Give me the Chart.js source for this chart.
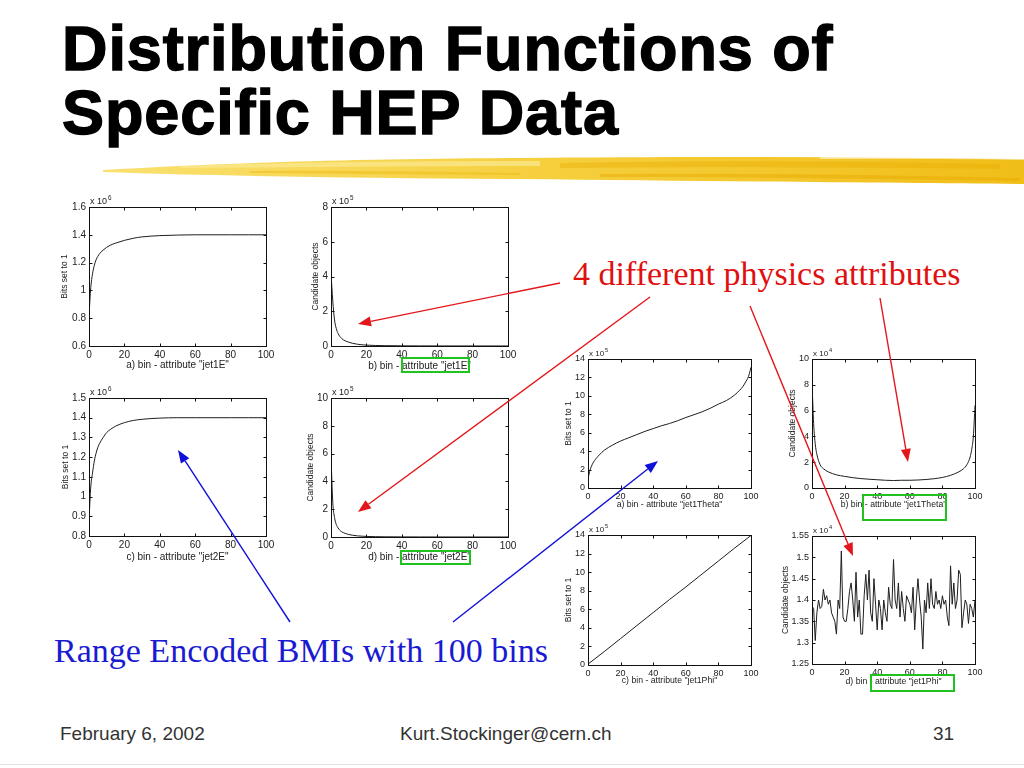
<!DOCTYPE html>
<html><head><meta charset="utf-8">
<script src="https://cdn.jsdelivr.net/npm/chart.js@4.4.1/dist/chart.umd.min.js"></script>
<style>
html,body{margin:0;padding:0;background:#fff;}
#slide{position:relative;width:1024px;height:768px;overflow:hidden;background:#fff;}
.ttl{position:absolute;left:62px;font-family:"Liberation Sans",Arial,sans-serif;font-weight:bold;font-size:63px;line-height:63px;color:#000;white-space:nowrap;-webkit-text-stroke:1.4px #000;letter-spacing:0.9px;}
.note{position:absolute;font-family:"Liberation Serif","Times New Roman",serif;font-size:34px;line-height:34px;white-space:nowrap;}
.foot{position:absolute;font-family:"Liberation Sans",Arial,sans-serif;font-size:19px;line-height:19px;color:#333;white-space:nowrap;}
canvas.pc{position:absolute;}
.gbox{position:absolute;border:2px solid #1fc21f;box-sizing:border-box;z-index:5;}
svg{position:absolute;left:0;top:0;}
</style>
</head><body>
<div id="slide">
  <svg id="brush" width="1024" height="768" style="z-index:1">
    <defs>
      <linearGradient id="yg" x1="0" x2="1" y1="0" y2="0">
        <stop offset="0" stop-color="#f9e070"/>
        <stop offset="0.45" stop-color="#f6d040"/>
        <stop offset="1" stop-color="#f1be18"/>
      </linearGradient>
    </defs>
    <path d="M103,170 C200,164 340,159 520,158 C700,156 860,157 1024,159 L1024,184 C900,183 700,181 520,179 C360,178 220,176 103,172 Z" fill="url(#yg)"/>
    <path d="M180,166 C300,162 420,161 540,161 L540,166 C420,166 300,167 180,168 Z" fill="#fbe993" opacity="0.7"/>
    <path d="M560,163 C700,160 850,161 1000,164 L1000,169 C850,167 700,167 560,168 Z" fill="#e8ad00" opacity="0.4"/>
    <path d="M600,174 C750,173 880,175 1020,178 L1020,181 C880,179 750,177 600,177 Z" fill="#e6a800" opacity="0.45"/>
    <path d="M250,171 C350,170 450,172 520,173 L520,175 C450,175 350,174 250,173 Z" fill="#eec020" opacity="0.6"/>
    <path d="M820,157 C900,156 960,157 1024,158 L1024,160 C960,159 900,159 820,159 Z" fill="#fff" opacity="0.5"/>
  </svg>
  <div class="ttl" style="top:17px">Distribution Functions of</div>
  <div class="ttl" style="top:81px">Specific HEP Data</div>
  <div class="note" style="left:573px;top:257px;color:#e01010">4 different physics attributes</div>
  <div class="note" style="left:54px;top:634px;color:#1a1ad2">Range Encoded BMIs with 100 bins</div>
  <div class="foot" style="left:60px;top:724px">February 6, 2002</div>
  <div class="foot" style="left:400px;top:724px">Kurt.Stockinger@cern.ch</div>
  <div class="foot" style="left:933px;top:724px">31</div>
  <div style="position:absolute;left:0;top:764px;width:1024px;height:1px;background:#e2e2e2"></div>
  <svg id="arrows" width="1024" height="768" style="z-index:6;pointer-events:none"></svg>
</div>
<script>
// ---------- data ----------
const binsE = [0,1,2,3,4,5,6,8,10,12,15,20,25,30,40,50,60,70,80,90,100];
const bitsJet1E = [0.82,1.02,1.12,1.18,1.22,1.245,1.265,1.29,1.31,1.325,1.34,1.36,1.375,1.385,1.394,1.398,1.4,1.4,1.4,1.4,1.4];
const candJet1E = [4.2,2.6,1.5,1.0,0.72,0.55,0.43,0.3,0.22,0.16,0.1,0.05,0.03,0.02,0.01,0.006,0.004,0.003,0.002,0.002,0.002];
const bitsJet2E = [0.88,1.05,1.12,1.18,1.22,1.25,1.27,1.30,1.325,1.34,1.357,1.375,1.386,1.392,1.398,1.4,1.4,1.4,1.4,1.4,1.4];
const candJet2E = [5.8,2.5,1.4,0.9,0.65,0.48,0.38,0.26,0.18,0.13,0.08,0.04,0.025,0.015,0.008,0.005,0.004,0.003,0.002,0.002,0.002];

const binsTheta = [0,1,2,3,5,7,10,15,20,25,30,35,40,45,50,55,60,65,70,75,80,85,90,93,95,97,98,99,100];
const bitsJet1Theta = [1.0,1.8,2.3,2.7,3.2,3.6,4.1,4.65,5.1,5.45,5.8,6.15,6.45,6.75,7.0,7.3,7.65,7.95,8.27,8.65,9.1,9.5,10.1,10.6,11.0,11.6,11.9,12.4,13.1];
const candJet1Theta = [8.2,5.0,3.4,2.6,1.8,1.5,1.25,1.02,0.9,0.8,0.73,0.68,0.64,0.6,0.58,0.6,0.6,0.62,0.66,0.72,0.82,0.98,1.25,1.5,1.8,2.4,3.0,4.0,6.4];

const binsPhiBits = [0,10,20,30,40,50,60,70,80,90,100];
const bitsJet1Phi = [0.1,1.45,2.85,4.25,5.65,7.05,8.4,9.8,11.2,12.6,13.95];

const binsPhi = Array.from({length:101},(_,i)=>i);
const candJet1Phi = [
 1.385,1.38,1.305,1.37,1.40,1.38,1.385,1.425,1.40,1.41,
 1.39,1.40,1.37,1.36,1.35,1.32,1.40,1.38,1.515,1.36,
 1.35,1.35,1.38,1.42,1.44,1.40,1.35,1.465,1.36,1.40,
 1.32,1.32,1.41,1.46,1.40,1.47,1.37,1.35,1.45,1.39,
 1.33,1.40,1.38,1.33,1.40,1.37,1.35,1.43,1.39,1.38,
 1.495,1.40,1.38,1.44,1.36,1.42,1.38,1.35,1.41,1.40,
 1.39,1.37,1.43,1.33,1.40,1.45,1.40,1.36,1.285,1.40,
 1.37,1.44,1.38,1.45,1.39,1.38,1.42,1.39,1.40,1.38,
 1.41,1.39,1.40,1.36,1.34,1.48,1.39,1.44,1.38,1.40,
 1.47,1.46,1.335,1.37,1.40,1.39,1.345,1.39,1.38,1.36,1.40];

const xTicks = [0,20,40,60,80,100];

// ---------- panels ----------
const L = {tick:10, xt:10, yt:8.5, exp:9};
const R = {tick:9, xt:8.7, yt:8.5, exp:8};
const panels = [
 {rect:{l:89,r:266,t:207,b:346}, yTitleX:65, xTitleY:365, yMin:0.6,yMax:1.6,yStep:0.2, exp:'6', yTitle:'Bits set to 1', xTitle:'a) bin - attribute "jet1E"', xs:binsE, ys:bitsJet1E, f:L, smooth:true},
 {rect:{l:331,r:508,t:207,b:346}, yTitleX:316, xTitleY:366, yMin:0,yMax:8,yStep:2, exp:'5', yTitle:'Candidate objects', xTitle:'b) bin - attribute "jet1E"', xs:binsE, ys:candJet1E, f:L, smooth:true},
 {rect:{l:89,r:266,t:398,b:536}, yTitleX:66, xTitleY:557, yMin:0.8,yMax:1.5,yStep:0.1, exp:'6', yTitle:'Bits set to 1', xTitle:'c) bin - attribute "jet2E"', xs:binsE, ys:bitsJet2E, f:L, smooth:true},
 {rect:{l:331,r:508,t:398,b:537}, yTitleX:311, xTitleY:557, yMin:0,yMax:10,yStep:2, exp:'5', yTitle:'Candidate objects', xTitle:'d) bin - attribute "jet2E"', xs:binsE, ys:candJet2E, f:L, smooth:true},
 {rect:{l:588,r:751,t:359,b:488}, yTitleX:569, xTitleY:505, yMin:0,yMax:14,yStep:2, exp:'5', yTitle:'Bits set to 1', xTitle:'a) bin - attribute "jet1Theta"', xs:binsTheta, ys:bitsJet1Theta, f:R, smooth:true},
 {rect:{l:812,r:975,t:359,b:488}, yTitleX:793, xTitleY:505, yMin:0,yMax:10,yStep:2, exp:'4', yTitle:'Candidate objects', xTitle:'b) bin - attribute "jet1Theta"', xs:binsTheta, ys:candJet1Theta, f:R, smooth:true},
 {rect:{l:588,r:751,t:535,b:665}, yTitleX:569, xTitleY:681, yMin:0,yMax:14,yStep:2, exp:'5', yTitle:'Bits set to 1', xTitle:'c) bin - attribute "jet1Phi"', xs:binsPhiBits, ys:bitsJet1Phi, f:R, smooth:false},
 {rect:{l:812,r:975,t:536,b:664}, yTitleX:786, xTitleY:682, yMin:1.25,yMax:1.55,yStep:0.05, exp:'4', yTitle:'Candidate objects', xTitle:'d) bin - attribute "jet1Phi"', xs:binsPhi, ys:candJet1Phi, f:R, smooth:false}
];

const FONT = '"Liberation Sans", Arial, sans-serif';
const framePlugin = {
  id:'frame',
  afterDraw(chart, args, opts){
    const {ctx, chartArea:{left,right,top,bottom}, scales:{x,y}} = chart;
    ctx.save();
    ctx.strokeStyle = '#111'; ctx.lineWidth = 1;
    const l = Math.round(left)+0.5, r = Math.round(right)+0.5, t = Math.round(top)+0.5, b = Math.round(bottom)+0.5;
    ctx.strokeRect(l, t, r-l, b-t);
    const tl = 3;
    ctx.beginPath();
    x.ticks.forEach(tk=>{const px=Math.round(x.getPixelForValue(tk.value))+0.5; ctx.moveTo(px,b); ctx.lineTo(px,b-tl); ctx.moveTo(px,t); ctx.lineTo(px,t+tl);});
    y.ticks.forEach(tk=>{const py=Math.round(y.getPixelForValue(tk.value))+0.5; ctx.moveTo(l,py); ctx.lineTo(l+tl,py); ctx.moveTo(r,py); ctx.lineTo(r-tl,py);});
    ctx.stroke();
    ctx.fillStyle = '#222';
    ctx.textBaseline = 'alphabetic'; ctx.textAlign = 'left';
    ctx.font = opts.size + 'px ' + FONT;
    const base = 'x 10';
    ctx.fillText(base, left+1, top-3);
    const w = ctx.measureText(base).width;
    ctx.font = (opts.size*0.7) + 'px ' + FONT;
    ctx.fillText(opts.exp, left+1+w+1, top-3-opts.size*0.45);
    ctx.restore();
  }
};

const slide = document.getElementById('slide');
const fmt = v => String(+(+v).toFixed(2));
panels.forEach(p=>{
  const {l,r,t,b} = p.rect;
  const cl = Math.round(p.yTitleX - p.f.yt*0.6);
  const ct = t - 18;
  const cr = r + 12;
  const cb = Math.round(p.xTitleY + p.f.xt*0.6) + 1;
  const W = cr - cl, H = cb - ct;
  const cv = document.createElement('canvas');
  cv.className = 'pc';
  cv.width = W; cv.height = H;
  cv.style.left = cl+'px'; cv.style.top = ct+'px';
  cv.style.width = W+'px'; cv.style.height = H+'px';
  cv.style.zIndex = 3;
  slide.appendChild(cv);
  const yW = l - cl, xH = cb - b;
  new Chart(cv, {
    type:'scatter',
    data:{datasets:[{
      data: p.xs.map((xv,i)=>({x:xv, y:p.ys[i]})),
      showLine:true, borderColor:'#1e1e1e', borderWidth:1, pointRadius:0, pointHoverRadius:0,
      fill:false, tension:0, cubicInterpolationMode: p.smooth ? 'monotone' : 'default'
    }]},
    options:{
      responsive:false, animation:false, devicePixelRatio:1,
      layout:{padding:{top:18,right:12,left:0,bottom:0}},
      plugins:{legend:{display:false}, tooltip:{enabled:false}, frame:{exp:p.exp, size:p.f.exp}},
      events:[],
      scales:{
        x:{type:'linear', min:0, max:100, afterBuildTicks: s=>{s.ticks = xTicks.map(v=>({value:v}));},
           grid:{display:false, drawTicks:false}, border:{display:false},
           ticks:{padding:3, color:'#222', font:{family:FONT, size:p.f.tick}, maxRotation:0, autoSkip:false, callback:fmt},
           title:{display:true, text:p.xTitle, color:'#222', font:{family:FONT, size:p.f.xt}, padding:{top:0,bottom:1}},
           afterFit: s=>{s.height = xH;}},
        y:{type:'linear', min:p.yMin, max:p.yMax,
           ticks:{stepSize:p.yStep, padding:3, color:'#222', font:{family:FONT, size:p.f.tick}, callback:fmt, autoSkip:false},
           grid:{display:false, drawTicks:false}, border:{display:false},
           title:{display:true, text:p.yTitle, color:'#222', font:{family:FONT, size:p.f.yt}, padding:{top:0,bottom:0}},
           afterFit: s=>{s.width = yW;}}
      }
    },
    plugins:[framePlugin]
  });
});

// ---------- green highlight boxes ----------
const gboxes = [[401,357,69,16],[400,550,71,15],[862,494,85,27],[870,674,85,18]];
gboxes.forEach(([x,y,w,h])=>{
  const d = document.createElement('div'); d.className='gbox';
  d.style.left=x+'px'; d.style.top=y+'px'; d.style.width=w+'px'; d.style.height=h+'px';
  slide.appendChild(d);
});

// ---------- annotation arrows ----------
const arrows = [
  [560,283,358,324,'#e3161b'],
  [650,297,358,512,'#e3161b'],
  [880,298,908,462,'#e3161b'],
  [750,306,853,556,'#e3161b'],
  [290,622,178,450,'#1010d8'],
  [453,622,658,461,'#1010d8']
];
const svg = document.getElementById('arrows');
const NS = 'http://www.w3.org/2000/svg';
arrows.forEach(([x1,y1,x2,y2,c])=>{
  const a = Math.atan2(y2-y1,x2-x1), hl = 13, hw = 5;
  const bx = x2 - hl*Math.cos(a), by = y2 - hl*Math.sin(a);
  const ln = document.createElementNS(NS,'line');
  ln.setAttribute('x1',x1); ln.setAttribute('y1',y1); ln.setAttribute('x2',bx); ln.setAttribute('y2',by);
  ln.setAttribute('stroke',c); ln.setAttribute('stroke-width','1.4');
  svg.appendChild(ln);
  const pg = document.createElementNS(NS,'polygon');
  pg.setAttribute('points', `${x2},${y2} ${bx+hw*Math.sin(a)},${by-hw*Math.cos(a)} ${bx-hw*Math.sin(a)},${by+hw*Math.cos(a)}`);
  pg.setAttribute('fill',c);
  svg.appendChild(pg);
});
</script>
</body></html>
